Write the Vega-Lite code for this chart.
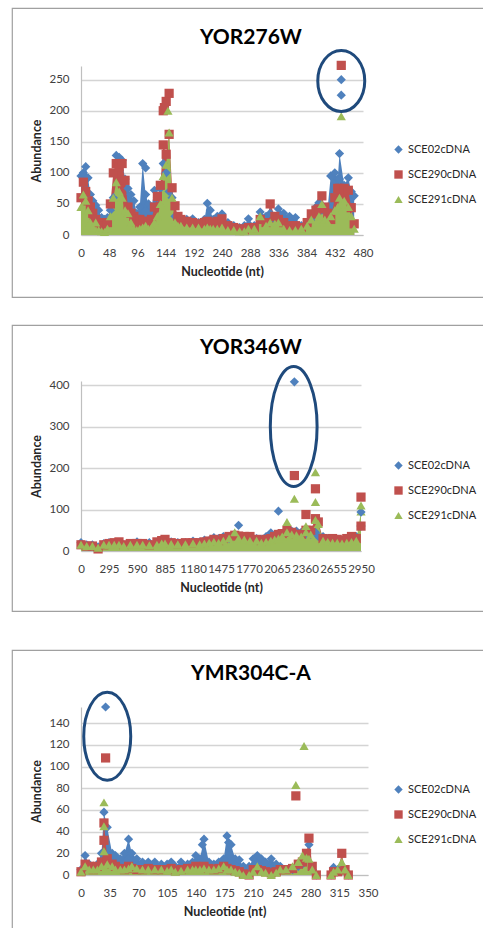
{
"$schema": "https://vega.github.io/schema/vega-lite/v6.json",
"padding": {"left": 11, "top": 7, "right": 0, "bottom": 0},
"background": "white",
"config": {
 "font": "Lato",
 "view": {"stroke": "#a0a0a0", "strokeWidth": 1.2},
 "axis": {"domainColor": "#bfbfbf", "domainWidth": 1.2, "ticks": false, "labelFont": "Lato", "labelFontSize": 11.5, "labelColor": "#404040", "titleFont": "Lato", "titleFontWeight": "bold", "titleFontSize": 12.5, "titleColor": "#262626", "gridColor": "#d4d4d4", "gridWidth": 1.5, "labelOverlap": false, "labelFlush": false},
 "axisX": {"labelPadding": 12, "titlePadding": 7},
 "axisY": {"labelPadding": 12, "titlePadding": 5},
 "legend": {"orient": "none", "labelFont": "Lato", "labelFontSize": 11, "labelColor": "#262626", "symbolSize": 70, "rowPadding": 13, "padding": 0, "symbolStrokeWidth": 0},
 "title": {"font": "Lato", "fontSize": 21, "fontWeight": "bold", "color": "#000000", "anchor": "middle", "offset": -35, "baseline": "alphabetic", "dx": 3}
},
"spacing": 26,
"resolve": {"scale": {"x": "independent", "y": "independent", "color": "independent", "shape": "independent", "fill": "independent"}, "legend": {"color": "independent", "shape": "independent"}},
"vconcat": [
{
 "width": 472, "height": 289,
 "title": {"text": "YOR276W", "offset": -40},
 "data": {"values": [
  {"x":0,"SCE02cDNA":95,"SCE290cDNA":60,"SCE291cDNA":45},
  {"x":4,"SCE02cDNA":100,"SCE290cDNA":85,"SCE291cDNA":65},
  {"x":8,"SCE02cDNA":110,"SCE290cDNA":70,"SCE291cDNA":55},
  {"x":12,"SCE02cDNA":92,"SCE290cDNA":55,"SCE291cDNA":40},
  {"x":16,"SCE02cDNA":65,"SCE290cDNA":45,"SCE291cDNA":20},
  {"x":20,"SCE02cDNA":55,"SCE290cDNA":35,"SCE291cDNA":12},
  {"x":25,"SCE02cDNA":48,"SCE290cDNA":25,"SCE291cDNA":20},
  {"x":30,"SCE02cDNA":40,"SCE290cDNA":20,"SCE291cDNA":8},
  {"x":35,"SCE02cDNA":28,"SCE290cDNA":15,"SCE291cDNA":6},
  {"x":40,"SCE02cDNA":25,"SCE290cDNA":12,"SCE291cDNA":5},
  {"x":45,"SCE02cDNA":28,"SCE290cDNA":20,"SCE291cDNA":10},
  {"x":50,"SCE02cDNA":40,"SCE290cDNA":50,"SCE291cDNA":30},
  {"x":55,"SCE02cDNA":60,"SCE290cDNA":100,"SCE291cDNA":60},
  {"x":60,"SCE02cDNA":128,"SCE290cDNA":115,"SCE291cDNA":85},
  {"x":65,"SCE02cDNA":125,"SCE290cDNA":110,"SCE291cDNA":70},
  {"x":70,"SCE02cDNA":120,"SCE290cDNA":115,"SCE291cDNA":60},
  {"x":75,"SCE02cDNA":90,"SCE290cDNA":88,"SCE291cDNA":40},
  {"x":80,"SCE02cDNA":75,"SCE290cDNA":45,"SCE291cDNA":35},
  {"x":85,"SCE02cDNA":65,"SCE290cDNA":35,"SCE291cDNA":20},
  {"x":90,"SCE02cDNA":55,"SCE290cDNA":30,"SCE291cDNA":10},
  {"x":95,"SCE02cDNA":35,"SCE290cDNA":25,"SCE291cDNA":8},
  {"x":100,"SCE02cDNA":45,"SCE290cDNA":25,"SCE291cDNA":10},
  {"x":105,"SCE02cDNA":115,"SCE290cDNA":22,"SCE291cDNA":12},
  {"x":110,"SCE02cDNA":65,"SCE290cDNA":20,"SCE291cDNA":15},
  {"x":115,"SCE02cDNA":50,"SCE290cDNA":22,"SCE291cDNA":10},
  {"x":120,"SCE02cDNA":45,"SCE290cDNA":25,"SCE291cDNA":12},
  {"x":125,"SCE02cDNA":72,"SCE290cDNA":45,"SCE291cDNA":20},
  {"x":130,"SCE02cDNA":60,"SCE290cDNA":62,"SCE291cDNA":30},
  {"x":135,"SCE02cDNA":75,"SCE290cDNA":80,"SCE291cDNA":50},
  {"x":140,"SCE02cDNA":115,"SCE290cDNA":145,"SCE291cDNA":95},
  {"x":145,"SCE02cDNA":100,"SCE290cDNA":130,"SCE291cDNA":113},
  {"x":150,"SCE02cDNA":70,"SCE290cDNA":162,"SCE291cDNA":165},
  {"x":155,"SCE02cDNA":60,"SCE290cDNA":76,"SCE291cDNA":60},
  {"x":160,"SCE02cDNA":30,"SCE290cDNA":47,"SCE291cDNA":20},
  {"x":165,"SCE02cDNA":25,"SCE290cDNA":30,"SCE291cDNA":15},
  {"x":170,"SCE02cDNA":25,"SCE290cDNA":25,"SCE291cDNA":15},
  {"x":180,"SCE02cDNA":25,"SCE290cDNA":22,"SCE291cDNA":12},
  {"x":190,"SCE02cDNA":26,"SCE290cDNA":20,"SCE291cDNA":12},
  {"x":200,"SCE02cDNA":20,"SCE290cDNA":18,"SCE291cDNA":12},
  {"x":210,"SCE02cDNA":25,"SCE290cDNA":20,"SCE291cDNA":10},
  {"x":215,"SCE02cDNA":51,"SCE290cDNA":22,"SCE291cDNA":12},
  {"x":220,"SCE02cDNA":40,"SCE290cDNA":20,"SCE291cDNA":10},
  {"x":225,"SCE02cDNA":25,"SCE290cDNA":18,"SCE291cDNA":10},
  {"x":232,"SCE02cDNA":30,"SCE290cDNA":22,"SCE291cDNA":10},
  {"x":240,"SCE02cDNA":34,"SCE290cDNA":26,"SCE291cDNA":12},
  {"x":250,"SCE02cDNA":20,"SCE290cDNA":15,"SCE291cDNA":8},
  {"x":260,"SCE02cDNA":15,"SCE290cDNA":12,"SCE291cDNA":8},
  {"x":270,"SCE02cDNA":12,"SCE290cDNA":10,"SCE291cDNA":6},
  {"x":278,"SCE02cDNA":15,"SCE290cDNA":8,"SCE291cDNA":6},
  {"x":285,"SCE02cDNA":26,"SCE290cDNA":12,"SCE291cDNA":10},
  {"x":295,"SCE02cDNA":15,"SCE290cDNA":12,"SCE291cDNA":10},
  {"x":305,"SCE02cDNA":37,"SCE290cDNA":25,"SCE291cDNA":30},
  {"x":315,"SCE02cDNA":30,"SCE290cDNA":20,"SCE291cDNA":15},
  {"x":322,"SCE02cDNA":35,"SCE290cDNA":50,"SCE291cDNA":20},
  {"x":330,"SCE02cDNA":25,"SCE290cDNA":30,"SCE291cDNA":18},
  {"x":336,"SCE02cDNA":42,"SCE290cDNA":25,"SCE291cDNA":20},
  {"x":345,"SCE02cDNA":35,"SCE290cDNA":20,"SCE291cDNA":10},
  {"x":355,"SCE02cDNA":30,"SCE290cDNA":15,"SCE291cDNA":8},
  {"x":365,"SCE02cDNA":28,"SCE290cDNA":15,"SCE291cDNA":8},
  {"x":375,"SCE02cDNA":15,"SCE290cDNA":12,"SCE291cDNA":10},
  {"x":385,"SCE02cDNA":20,"SCE290cDNA":20,"SCE291cDNA":15},
  {"x":392,"SCE02cDNA":25,"SCE290cDNA":34,"SCE291cDNA":25},
  {"x":400,"SCE02cDNA":45,"SCE290cDNA":40,"SCE291cDNA":20},
  {"x":405,"SCE02cDNA":52,"SCE290cDNA":42,"SCE291cDNA":30},
  {"x":410,"SCE02cDNA":40,"SCE290cDNA":63,"SCE291cDNA":50},
  {"x":415,"SCE02cDNA":40,"SCE290cDNA":45,"SCE291cDNA":25},
  {"x":420,"SCE02cDNA":45,"SCE290cDNA":35,"SCE291cDNA":20},
  {"x":425,"SCE02cDNA":95,"SCE290cDNA":25,"SCE291cDNA":30},
  {"x":432,"SCE02cDNA":100,"SCE290cDNA":60,"SCE291cDNA":40},
  {"x":437,"SCE02cDNA":90,"SCE290cDNA":75,"SCE291cDNA":45},
  {"x":440,"SCE02cDNA":131,"SCE290cDNA":75,"SCE291cDNA":60},
  {"x":448,"SCE02cDNA":80,"SCE290cDNA":75,"SCE291cDNA":55},
  {"x":455,"SCE02cDNA":92,"SCE290cDNA":72,"SCE291cDNA":45},
  {"x":460,"SCE02cDNA":70,"SCE290cDNA":44,"SCE291cDNA":30},
  {"x":465,"SCE02cDNA":63,"SCE290cDNA":18,"SCE291cDNA":10}
 ]},
 "layer": [
  {"transform": [{"fold": ["SCE02cDNA","SCE290cDNA","SCE291cDNA"]}],
   "mark": {"type": "area", "opacity": 1},
   "encoding": {
    "x": {"field": "x", "type": "quantitative", "scale": {"domain": [0,480], "range": [69,351], "nice": false, "zero": false}, "axis": {"values": [0,48,96,144,192,240,288,336,384,432,480], "format": "d", "offset": -62, "grid": false, "title": "Nucleotide (nt)"}},
    "y": {"field": "value", "type": "quantitative", "stack": null, "scale": {"domain": [0,272], "range": [227,58], "nice": false}, "axis": {"values": [0,50,100,150,200,250], "offset": -69, "grid": true, "title": "Abundance"}},
    "fill": {"field": "key", "type": "nominal", "scale": {"domain": ["SCE291cDNA","SCE290cDNA","SCE02cDNA"], "range": ["#9BBB59","#C0504D","#4F81BD"]}, "legend": null}
   }},
  {"transform": [{"fold": ["SCE02cDNA","SCE290cDNA","SCE291cDNA"]}],
   "mark": {"type": "point", "filled": true, "opacity": 1, "size": 85},
   "encoding": {
    "x": {"field": "x", "type": "quantitative"},
    "y": {"field": "value", "type": "quantitative"},
    "color": {"field": "key", "type": "nominal", "scale": {"domain": ["SCE02cDNA","SCE290cDNA","SCE291cDNA"], "range": ["#4F81BD","#C0504D","#9BBB59"]}, "legend": {"title": null, "orient": "none", "legendX": 381, "legendY": 136}},
    "shape": {"field": "key", "type": "nominal", "scale": {"domain": ["SCE02cDNA","SCE290cDNA","SCE291cDNA"], "range": ["diamond","square","triangle-up"]}, "legend": {"title": null, "orient": "none", "legendX": 381, "legendY": 136}},
    "order": {"field": "key", "type": "ordinal"}
   }},
  {"data": {"values": [
    {"x":110,"value":108,"key":"SCE02cDNA"},
    {"x":440,"value":90,"key":"SCE02cDNA"},
    {"x":443,"value":250,"key":"SCE02cDNA"},
    {"x":443,"value":225,"key":"SCE02cDNA"},
    {"x":140,"value":200,"key":"SCE290cDNA"},
    {"x":142,"value":205,"key":"SCE290cDNA"},
    {"x":145,"value":215,"key":"SCE290cDNA"},
    {"x":150,"value":228,"key":"SCE290cDNA"},
    {"x":443,"value":273,"key":"SCE290cDNA"},
    {"x":148,"value":200,"key":"SCE291cDNA"},
    {"x":443,"value":191,"key":"SCE291cDNA"}
   ]},
   "mark": {"type": "point", "filled": true, "opacity": 1, "size": 85},
   "encoding": {
    "x": {"field": "x", "type": "quantitative"},
    "y": {"field": "value", "type": "quantitative"},
    "color": {"field": "key", "type": "nominal"},
    "shape": {"field": "key", "type": "nominal"},
    "order": {"field": "key", "type": "ordinal"}
   }},
  {"data": {"values": [{"x":443,"value":248}]},
   "mark": {"type": "point", "shape": "M-0.77,0A0.77,1 0 1,0 0.77,0A0.77,1 0 1,0 -0.77,0Z", "filled": false, "size": 3721, "strokeWidth": 3, "color": "#1f4a7c", "opacity": 1},
   "encoding": {"x": {"field": "x", "type": "quantitative"}, "y": {"field": "value", "type": "quantitative"}}}
 ]
},
{
 "spacing": 37,
 "resolve": {"scale": {"x": "independent", "y": "independent", "color": "independent", "shape": "independent", "fill": "independent"}, "legend": {"color": "independent", "shape": "independent"}},
 "vconcat": [
 {
  "width": 472, "height": 286,
  "title": {"text": "YOR346W", "offset": -33},
  "data": {"values": [
   {"x":0,"SCE02cDNA":20,"SCE290cDNA":15,"SCE291cDNA":15},
   {"x":60,"SCE02cDNA":15,"SCE290cDNA":12,"SCE291cDNA":12},
   {"x":120,"SCE02cDNA":15,"SCE290cDNA":12,"SCE291cDNA":12},
   {"x":180,"SCE02cDNA":10,"SCE290cDNA":5,"SCE291cDNA":8},
   {"x":240,"SCE02cDNA":18,"SCE290cDNA":15,"SCE291cDNA":15},
   {"x":295,"SCE02cDNA":20,"SCE290cDNA":18,"SCE291cDNA":15},
   {"x":350,"SCE02cDNA":18,"SCE290cDNA":20,"SCE291cDNA":15},
   {"x":400,"SCE02cDNA":18,"SCE290cDNA":22,"SCE291cDNA":15},
   {"x":450,"SCE02cDNA":15,"SCE290cDNA":15,"SCE291cDNA":12},
   {"x":520,"SCE02cDNA":18,"SCE290cDNA":18,"SCE291cDNA":15},
   {"x":590,"SCE02cDNA":22,"SCE290cDNA":18,"SCE291cDNA":15},
   {"x":650,"SCE02cDNA":18,"SCE290cDNA":18,"SCE291cDNA":15},
   {"x":720,"SCE02cDNA":20,"SCE290cDNA":15,"SCE291cDNA":14},
   {"x":800,"SCE02cDNA":20,"SCE290cDNA":22,"SCE291cDNA":15},
   {"x":850,"SCE02cDNA":25,"SCE290cDNA":25,"SCE291cDNA":18},
   {"x":885,"SCE02cDNA":25,"SCE290cDNA":28,"SCE291cDNA":18},
   {"x":950,"SCE02cDNA":22,"SCE290cDNA":20,"SCE291cDNA":17},
   {"x":1020,"SCE02cDNA":20,"SCE290cDNA":18,"SCE291cDNA":16},
   {"x":1100,"SCE02cDNA":20,"SCE290cDNA":20,"SCE291cDNA":16},
   {"x":1180,"SCE02cDNA":24,"SCE290cDNA":20,"SCE291cDNA":18},
   {"x":1250,"SCE02cDNA":22,"SCE290cDNA":20,"SCE291cDNA":16},
   {"x":1300,"SCE02cDNA":26,"SCE290cDNA":22,"SCE291cDNA":18},
   {"x":1350,"SCE02cDNA":25,"SCE290cDNA":24,"SCE291cDNA":20},
   {"x":1400,"SCE02cDNA":32,"SCE290cDNA":28,"SCE291cDNA":22},
   {"x":1450,"SCE02cDNA":30,"SCE290cDNA":25,"SCE291cDNA":20},
   {"x":1500,"SCE02cDNA":35,"SCE290cDNA":30,"SCE291cDNA":25},
   {"x":1560,"SCE02cDNA":30,"SCE290cDNA":35,"SCE291cDNA":30},
   {"x":1620,"SCE02cDNA":40,"SCE290cDNA":38,"SCE291cDNA":45},
   {"x":1660,"SCE02cDNA":35,"SCE290cDNA":36,"SCE291cDNA":30},
   {"x":1720,"SCE02cDNA":35,"SCE290cDNA":35,"SCE291cDNA":28},
   {"x":1780,"SCE02cDNA":35,"SCE290cDNA":35,"SCE291cDNA":25},
   {"x":1850,"SCE02cDNA":30,"SCE290cDNA":28,"SCE291cDNA":25},
   {"x":1900,"SCE02cDNA":28,"SCE290cDNA":25,"SCE291cDNA":20},
   {"x":1950,"SCE02cDNA":35,"SCE290cDNA":28,"SCE291cDNA":22},
   {"x":2000,"SCE02cDNA":44,"SCE290cDNA":30,"SCE291cDNA":25},
   {"x":2040,"SCE02cDNA":35,"SCE290cDNA":35,"SCE291cDNA":28},
   {"x":2080,"SCE02cDNA":35,"SCE290cDNA":40,"SCE291cDNA":30},
   {"x":2120,"SCE02cDNA":40,"SCE290cDNA":42,"SCE291cDNA":35},
   {"x":2170,"SCE02cDNA":45,"SCE290cDNA":50,"SCE291cDNA":45},
   {"x":2220,"SCE02cDNA":48,"SCE290cDNA":45,"SCE291cDNA":40},
   {"x":2270,"SCE02cDNA":48,"SCE290cDNA":40,"SCE291cDNA":38},
   {"x":2320,"SCE02cDNA":45,"SCE290cDNA":40,"SCE291cDNA":35},
   {"x":2370,"SCE02cDNA":40,"SCE290cDNA":50,"SCE291cDNA":45},
   {"x":2420,"SCE02cDNA":40,"SCE290cDNA":50,"SCE291cDNA":40},
   {"x":2470,"SCE02cDNA":45,"SCE290cDNA":78,"SCE291cDNA":75},
   {"x":2500,"SCE02cDNA":35,"SCE290cDNA":70,"SCE291cDNA":65},
   {"x":2550,"SCE02cDNA":35,"SCE290cDNA":30,"SCE291cDNA":25},
   {"x":2600,"SCE02cDNA":30,"SCE290cDNA":28,"SCE291cDNA":22},
   {"x":2650,"SCE02cDNA":28,"SCE290cDNA":30,"SCE291cDNA":20},
   {"x":2700,"SCE02cDNA":25,"SCE290cDNA":28,"SCE291cDNA":20},
   {"x":2750,"SCE02cDNA":25,"SCE290cDNA":25,"SCE291cDNA":18},
   {"x":2800,"SCE02cDNA":28,"SCE290cDNA":30,"SCE291cDNA":20},
   {"x":2850,"SCE02cDNA":30,"SCE290cDNA":35,"SCE291cDNA":22},
   {"x":2900,"SCE02cDNA":35,"SCE290cDNA":30,"SCE291cDNA":25},
   {"x":2950,"SCE02cDNA":60,"SCE290cDNA":60,"SCE291cDNA":95}
  ]},
  "layer": [
   {"transform": [{"fold": ["SCE02cDNA","SCE290cDNA","SCE291cDNA"]}],
    "mark": {"type": "area", "opacity": 1},
    "encoding": {
     "x": {"field": "x", "type": "quantitative", "scale": {"domain": [0,2950], "range": [69,349], "nice": false, "zero": false}, "axis": {"values": [0,295,590,885,1180,1475,1770,2065,2360,2655,2950], "format": "d", "offset": -60, "grid": false, "title": "Nucleotide (nt)"}},
     "y": {"field": "value", "type": "quantitative", "stack": null, "scale": {"domain": [0,410], "range": [226,56], "nice": false}, "axis": {"values": [0,50,100,150,200,250,300,350,400], "offset": -69, "grid": true, "title": "Abundance"}},
     "fill": {"field": "key", "type": "nominal", "scale": {"domain": ["SCE291cDNA","SCE290cDNA","SCE02cDNA"], "range": ["#9BBB59","#C0504D","#4F81BD"]}, "legend": null}
    }},
   {"transform": [{"fold": ["SCE02cDNA","SCE290cDNA","SCE291cDNA"]}],
    "mark": {"type": "point", "filled": true, "opacity": 1, "size": 85},
    "encoding": {
     "x": {"field": "x", "type": "quantitative"},
     "y": {"field": "value", "type": "quantitative"},
     "color": {"field": "key", "type": "nominal", "scale": {"domain": ["SCE02cDNA","SCE290cDNA","SCE291cDNA"], "range": ["#4F81BD","#C0504D","#9BBB59"]}, "legend": {"title": null, "orient": "none", "legendX": 381, "legendY": 135}},
     "shape": {"field": "key", "type": "nominal", "scale": {"domain": ["SCE02cDNA","SCE290cDNA","SCE291cDNA"], "range": ["diamond","square","triangle-up"]}, "legend": {"title": null, "orient": "none", "legendX": 381, "legendY": 135}},
     "order": {"field": "key", "type": "ordinal"}
    }},
   {"data": {"values": [
     {"x":1660,"value":62,"key":"SCE02cDNA"},
     {"x":2080,"value":96,"key":"SCE02cDNA"},
     {"x":2248,"value":408,"key":"SCE02cDNA"},
     {"x":2950,"value":94,"key":"SCE02cDNA"},
     {"x":2248,"value":182,"key":"SCE290cDNA"},
     {"x":2370,"value":88,"key":"SCE290cDNA"},
     {"x":2470,"value":150,"key":"SCE290cDNA"},
     {"x":2950,"value":130,"key":"SCE290cDNA"},
     {"x":2170,"value":70,"key":"SCE291cDNA"},
     {"x":2248,"value":126,"key":"SCE291cDNA"},
     {"x":2370,"value":60,"key":"SCE291cDNA"},
     {"x":2470,"value":190,"key":"SCE291cDNA"},
     {"x":2470,"value":118,"key":"SCE291cDNA"},
     {"x":2950,"value":110,"key":"SCE291cDNA"}
    ]},
    "mark": {"type": "point", "filled": true, "opacity": 1, "size": 85},
    "encoding": {
     "x": {"field": "x", "type": "quantitative"},
     "y": {"field": "value", "type": "quantitative"},
     "color": {"field": "key", "type": "nominal"},
     "shape": {"field": "key", "type": "nominal"},
     "order": {"field": "key", "type": "ordinal"}
    }},
   {"data": {"values": [{"x":2241,"value":300}]},
    "mark": {"type": "point", "shape": "M-0.39,0A0.39,1 0 1,0 0.39,0A0.39,1 0 1,0 -0.39,0Z", "filled": false, "size": 14400, "strokeWidth": 3, "color": "#1f4a7c", "opacity": 1},
    "encoding": {"x": {"field": "x", "type": "quantitative"}, "y": {"field": "value", "type": "quantitative"}}}
  ]
 },
 {
  "width": 472, "height": 290,
  "title": {"text": "YMR304C-A", "offset": -34},
  "data": {"values": [
   {"x":0,"SCE02cDNA":5,"SCE290cDNA":3,"SCE291cDNA":3},
   {"x":5,"SCE02cDNA":18,"SCE290cDNA":10,"SCE291cDNA":8},
   {"x":10,"SCE02cDNA":10,"SCE290cDNA":8,"SCE291cDNA":5},
   {"x":15,"SCE02cDNA":8,"SCE290cDNA":5,"SCE291cDNA":5},
   {"x":20,"SCE02cDNA":10,"SCE290cDNA":8,"SCE291cDNA":5},
   {"x":25,"SCE02cDNA":20,"SCE290cDNA":12,"SCE291cDNA":8},
   {"x":28,"SCE02cDNA":58,"SCE290cDNA":48,"SCE291cDNA":22},
   {"x":32,"SCE02cDNA":44,"SCE290cDNA":15,"SCE291cDNA":10},
   {"x":38,"SCE02cDNA":20,"SCE290cDNA":10,"SCE291cDNA":8},
   {"x":42,"SCE02cDNA":18,"SCE290cDNA":8,"SCE291cDNA":5},
   {"x":48,"SCE02cDNA":15,"SCE290cDNA":6,"SCE291cDNA":5},
   {"x":53,"SCE02cDNA":20,"SCE290cDNA":5,"SCE291cDNA":5},
   {"x":58,"SCE02cDNA":33,"SCE290cDNA":8,"SCE291cDNA":6},
   {"x":62,"SCE02cDNA":20,"SCE290cDNA":6,"SCE291cDNA":8},
   {"x":68,"SCE02cDNA":15,"SCE290cDNA":5,"SCE291cDNA":6},
   {"x":75,"SCE02cDNA":12,"SCE290cDNA":5,"SCE291cDNA":5},
   {"x":82,"SCE02cDNA":12,"SCE290cDNA":6,"SCE291cDNA":5},
   {"x":90,"SCE02cDNA":12,"SCE290cDNA":5,"SCE291cDNA":5},
   {"x":98,"SCE02cDNA":10,"SCE290cDNA":5,"SCE291cDNA":5},
   {"x":105,"SCE02cDNA":10,"SCE290cDNA":5,"SCE291cDNA":4},
   {"x":110,"SCE02cDNA":12,"SCE290cDNA":6,"SCE291cDNA":5},
   {"x":115,"SCE02cDNA":8,"SCE290cDNA":4,"SCE291cDNA":3},
   {"x":122,"SCE02cDNA":12,"SCE290cDNA":5,"SCE291cDNA":4},
   {"x":130,"SCE02cDNA":10,"SCE290cDNA":6,"SCE291cDNA":5},
   {"x":136,"SCE02cDNA":12,"SCE290cDNA":6,"SCE291cDNA":5},
   {"x":140,"SCE02cDNA":18,"SCE290cDNA":8,"SCE291cDNA":5},
   {"x":145,"SCE02cDNA":15,"SCE290cDNA":6,"SCE291cDNA":5},
   {"x":150,"SCE02cDNA":33,"SCE290cDNA":8,"SCE291cDNA":6},
   {"x":156,"SCE02cDNA":12,"SCE290cDNA":6,"SCE291cDNA":5},
   {"x":162,"SCE02cDNA":10,"SCE290cDNA":5,"SCE291cDNA":5},
   {"x":168,"SCE02cDNA":12,"SCE290cDNA":6,"SCE291cDNA":6},
   {"x":174,"SCE02cDNA":15,"SCE290cDNA":8,"SCE291cDNA":8},
   {"x":178,"SCE02cDNA":36,"SCE290cDNA":6,"SCE291cDNA":5},
   {"x":183,"SCE02cDNA":28,"SCE290cDNA":5,"SCE291cDNA":5},
   {"x":188,"SCE02cDNA":15,"SCE290cDNA":4,"SCE291cDNA":3},
   {"x":193,"SCE02cDNA":14,"SCE290cDNA":3,"SCE291cDNA":2},
   {"x":198,"SCE02cDNA":8,"SCE290cDNA":1,"SCE291cDNA":0},
   {"x":205,"SCE02cDNA":8,"SCE290cDNA":0,"SCE291cDNA":0},
   {"x":210,"SCE02cDNA":15,"SCE290cDNA":5,"SCE291cDNA":3},
   {"x":215,"SCE02cDNA":18,"SCE290cDNA":5,"SCE291cDNA":8},
   {"x":220,"SCE02cDNA":15,"SCE290cDNA":4,"SCE291cDNA":3},
   {"x":225,"SCE02cDNA":12,"SCE290cDNA":3,"SCE291cDNA":2},
   {"x":232,"SCE02cDNA":15,"SCE290cDNA":2,"SCE291cDNA":0},
   {"x":238,"SCE02cDNA":10,"SCE290cDNA":3,"SCE291cDNA":2},
   {"x":243,"SCE02cDNA":8,"SCE290cDNA":5,"SCE291cDNA":5},
   {"x":250,"SCE02cDNA":5,"SCE290cDNA":5,"SCE291cDNA":5},
   {"x":258,"SCE02cDNA":5,"SCE290cDNA":6,"SCE291cDNA":8},
   {"x":265,"SCE02cDNA":8,"SCE290cDNA":10,"SCE291cDNA":12},
   {"x":270,"SCE02cDNA":10,"SCE290cDNA":12,"SCE291cDNA":18},
   {"x":275,"SCE02cDNA":15,"SCE290cDNA":20,"SCE291cDNA":16},
   {"x":278,"SCE02cDNA":28,"SCE290cDNA":34,"SCE291cDNA":15},
   {"x":282,"SCE02cDNA":5,"SCE290cDNA":8,"SCE291cDNA":5},
   {"x":287,"SCE02cDNA":0,"SCE290cDNA":0,"SCE291cDNA":0},
   {"x":305,"SCE02cDNA":0,"SCE290cDNA":0,"SCE291cDNA":0},
   {"x":308,"SCE02cDNA":7,"SCE290cDNA":3,"SCE291cDNA":3},
   {"x":313,"SCE02cDNA":5,"SCE290cDNA":3,"SCE291cDNA":5},
   {"x":318,"SCE02cDNA":5,"SCE290cDNA":20,"SCE291cDNA":12},
   {"x":322,"SCE02cDNA":4,"SCE290cDNA":5,"SCE291cDNA":5},
   {"x":326,"SCE02cDNA":0,"SCE290cDNA":0,"SCE291cDNA":0}
  ]},
  "layer": [
   {"transform": [{"fold": ["SCE02cDNA","SCE290cDNA","SCE291cDNA"]}],
    "mark": {"type": "area", "opacity": 1},
    "encoding": {
     "x": {"field": "x", "type": "quantitative", "scale": {"domain": [0,350], "range": [69,356], "nice": false, "zero": false}, "axis": {"values": [0,35,70,105,140,175,210,245,280,315,350], "format": "d", "offset": -65, "grid": false, "title": "Nucleotide (nt)"}},
     "y": {"field": "value", "type": "quantitative", "stack": null, "scale": {"domain": [0,155], "range": [225,57], "nice": false}, "axis": {"values": [0,20,40,60,80,100,120,140], "offset": -69, "grid": true, "title": "Abundance"}},
     "fill": {"field": "key", "type": "nominal", "scale": {"domain": ["SCE291cDNA","SCE290cDNA","SCE02cDNA"], "range": ["#9BBB59","#C0504D","#4F81BD"]}, "legend": null}
    }},
   {"transform": [{"fold": ["SCE02cDNA","SCE290cDNA","SCE291cDNA"]}],
    "mark": {"type": "point", "filled": true, "opacity": 1, "size": 85},
    "encoding": {
     "x": {"field": "x", "type": "quantitative"},
     "y": {"field": "value", "type": "quantitative"},
     "color": {"field": "key", "type": "nominal", "scale": {"domain": ["SCE02cDNA","SCE290cDNA","SCE291cDNA"], "range": ["#4F81BD","#C0504D","#9BBB59"]}, "legend": {"title": null, "orient": "none", "legendX": 381, "legendY": 134}},
     "shape": {"field": "key", "type": "nominal", "scale": {"domain": ["SCE02cDNA","SCE290cDNA","SCE291cDNA"], "range": ["diamond","square","triangle-up"]}, "legend": {"title": null, "orient": "none", "legendX": 381, "legendY": 134}},
     "order": {"field": "key", "type": "ordinal"}
    }},
   {"data": {"values": [
     {"x":30,"value":155,"key":"SCE02cDNA"},
     {"x":148,"value":28,"key":"SCE02cDNA"},
     {"x":180,"value":30,"key":"SCE02cDNA"},
     {"x":30,"value":108,"key":"SCE290cDNA"},
     {"x":28,"value":32,"key":"SCE290cDNA"},
     {"x":262,"value":73,"key":"SCE290cDNA"},
     {"x":28,"value":67,"key":"SCE291cDNA"},
     {"x":28,"value":45,"key":"SCE291cDNA"},
     {"x":262,"value":83,"key":"SCE291cDNA"},
     {"x":272,"value":119,"key":"SCE291cDNA"}
    ]},
    "mark": {"type": "point", "filled": true, "opacity": 1, "size": 85},
    "encoding": {
     "x": {"field": "x", "type": "quantitative"},
     "y": {"field": "value", "type": "quantitative"},
     "color": {"field": "key", "type": "nominal"},
     "shape": {"field": "key", "type": "nominal"},
     "order": {"field": "key", "type": "ordinal"}
    }},
   {"data": {"values": [{"x":32,"value":128}]},
    "mark": {"type": "point", "shape": "M-0.534,0A0.534,1 0 1,0 0.534,0A0.534,1 0 1,0 -0.534,0Z", "filled": false, "size": 7744, "strokeWidth": 3, "color": "#1f4a7c", "opacity": 1},
    "encoding": {"x": {"field": "x", "type": "quantitative"}, "y": {"field": "value", "type": "quantitative"}}}
  ]
 }
 ]
}
]
}
